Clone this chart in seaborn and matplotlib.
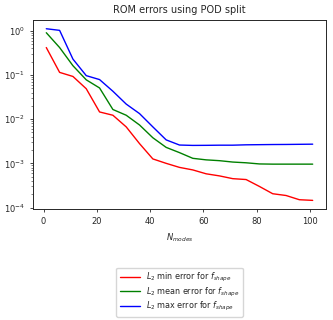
import numpy as np
import pandas as pd
import matplotlib
matplotlib.use("Agg")
import matplotlib.pyplot as plt
import seaborn as sns

# datos
n_modes = [1, 6, 11, 16, 21, 26, 31, 36, 41, 46, 51, 56, 61, 66, 71, 76, 81, 86, 91, 96, 101]
err_min = [0.42, 0.115, 0.093, 0.049, 0.0146, 0.0123, 0.0067, 0.0028, 0.00126, 0.001, 0.00081,
           0.00071, 0.00058, 0.00052, 0.00045, 0.00043, 0.0003, 0.000205, 0.000187, 0.00015, 0.000145]
err_mean = [0.91, 0.42, 0.163, 0.078, 0.051, 0.0166, 0.0123, 0.0074, 0.0038, 0.0023, 0.00175,
            0.0013, 0.0012, 0.00115, 0.00107, 0.00103, 0.00097, 0.00096, 0.00096, 0.00096, 0.00096]
err_max = [1.12, 1.03, 0.23, 0.097, 0.079, 0.043, 0.022, 0.0134, 0.0067, 0.0034, 0.0026,
           0.00255, 0.00256, 0.00258, 0.00258, 0.00263, 0.00265, 0.00267, 0.00268, 0.0027, 0.00272]

labels = [r"$L_2$ min error for $f_{shape}$",
          r"$L_2$ mean error for $f_{shape}$",
          r"$L_2$ max error for $f_{shape}$"]
colors = ["red", "green", "blue"]

df = pd.DataFrame({"N": n_modes * 3,
                   "err": err_min + err_mean + err_max,
                   "serie": [labels[0]] * len(n_modes) + [labels[1]] * len(n_modes) + [labels[2]] * len(n_modes)})

sns.set_style("ticks")
plt.rcParams["font.family"] = ["DejaVu Sans"]

fig = plt.figure(figsize=(3.33, 3.2), dpi=100)
ax = fig.add_axes([0.099, 0.347, 0.88, 0.59])

sns.lineplot(data=df, x="N", y="err", hue="serie", palette=colors, ax=ax, linewidth=1.0)

ax.set_yscale("log")
ax.set_title("ROM errors using POD split", fontsize=7, pad=5)
ax.set_xlabel(r"$N_{modes}$", fontsize=6, labelpad=4)
ax.set_ylabel("")
ax.tick_params(labelsize=6, width=0.6, length=2.5)
ax.tick_params(which="minor", width=0.4, length=1.5)
for s in ax.spines.values():
    s.set_linewidth(0.7)
ax.set_xticks([0, 20, 40, 60, 80, 100])

ax.legend(loc="upper center", bbox_to_anchor=(0.5, -0.29), fontsize=5.8, frameon=True,
          handlelength=2.5, borderpad=0.4, labelspacing=0.2)

fig.savefig("out.png", dpi=100)
